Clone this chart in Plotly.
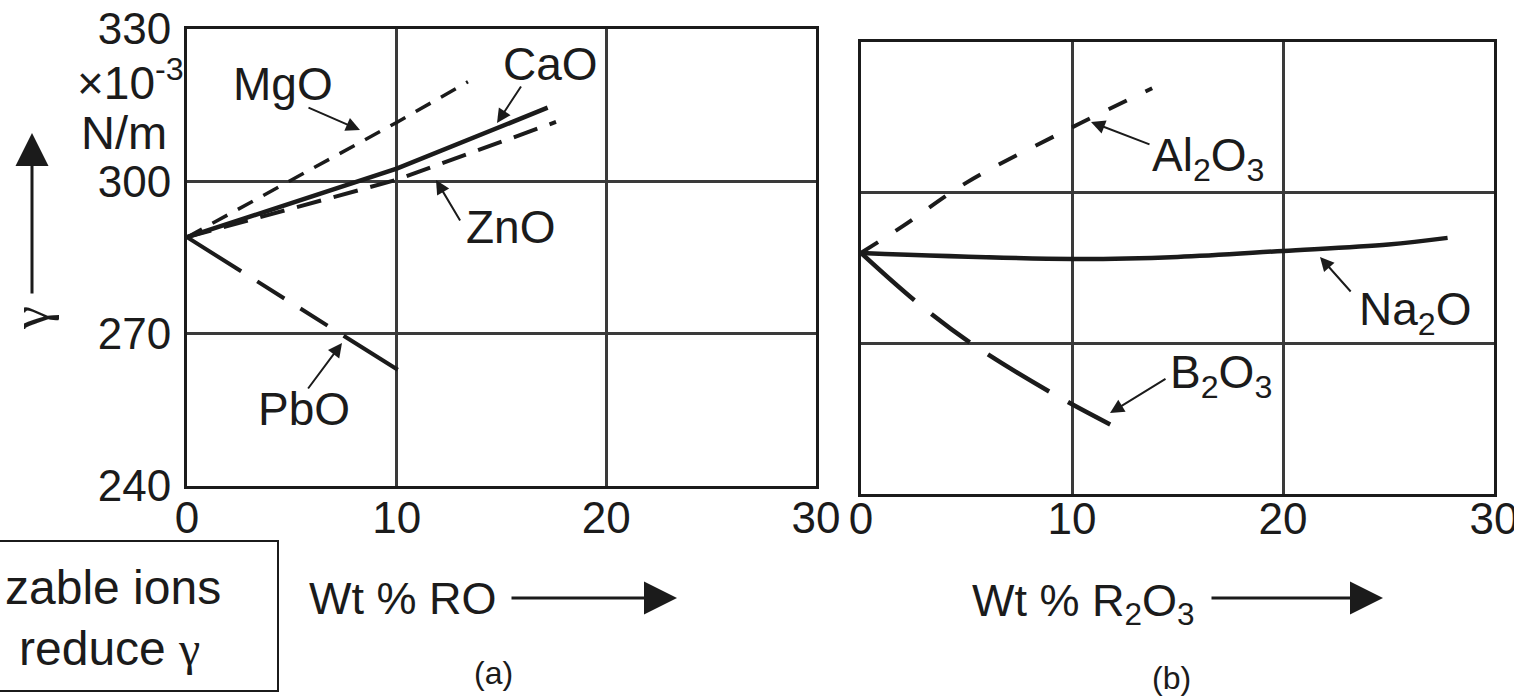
import plotly.graph_objects as go

W, H = 1514, 698
FONT = "Arial, Liberation Sans, sans-serif"
SERIF = "Liberation Serif, Times New Roman, serif"
INK = "#1b1b1b"
GRID = "#3a3a3a"

# ---- (a) surface tension vs. Wt % RO ----
mgo_x = [0, 10, 13.4]
mgo_y = [289, 311.6, 319.6]
cao_x = [0, 10, 17.2]
cao_y = [289, 302.5, 314.5]
zno_x = [0, 10, 17.6]
zno_y = [289, 300.3, 311.7]
pbo_x = [0, 5, 10.2]
pbo_y = [289, 276, 262.5]

# ---- (b) surface tension vs. Wt % R2O3 ----
al2o3_x = [0, 2, 5, 10, 13.8]
al2o3_y = [288, 293.4, 302, 313, 320.8]
na2o_x = [0, 10, 15, 20, 25, 27.8]
na2o_y = [288, 286.8, 287.2, 288.4, 289.7, 291]
b2o3_x = [0, 2.7, 5.4, 9.3, 12.2]
b2o3_y = [288, 278, 269.5, 259.5, 253]

x_ticks = [0, 10, 20, 30]
y_ticks = [240, 270, 300, 330]


def px(x):
    return x / W


def py(y):
    return 1 - y / H


fig = go.Figure()


def add_line(xs, ys, axis, dash, width=4, shape="linear"):
    fig.add_trace(go.Scatter(
        x=xs, y=ys, mode="lines",
        xaxis="x" if axis == 1 else "x2",
        yaxis="y" if axis == 1 else "y2",
        line=dict(color=INK, width=width, dash=dash, shape=shape),
        hoverinfo="skip", showlegend=False,
    ))


add_line(mgo_x, mgo_y, 1, "17px,12px", 3.5)
add_line(cao_x, cao_y, 1, "solid", 4.5)
add_line(zno_x, zno_y, 1, "25px,13px", 4)
add_line(pbo_x, pbo_y, 1, "64px,19px,32px,19px,32px,19px", 4)

add_line(al2o3_x, al2o3_y, 2, "20px,21px", 4, "spline")
add_line(na2o_x, na2o_y, 2, "solid", 4.5, "spline")
add_line(b2o3_x, b2o3_y, 2, "71px,22px,48px,22px", 4.5, "spline")

axis_common = dict(
    showgrid=True, gridcolor=GRID, gridwidth=2.5,
    showline=True, mirror=True, linecolor=INK, linewidth=3,
    zeroline=False, ticks="", ticklen=0, fixedrange=True, automargin=False,
    ticklabeloverflow="allow",
    tickfont=dict(family=FONT, size=44, color=INK),
)

fig.update_layout(
    template="none",
    width=W, height=H,
    margin=dict(l=0, r=0, t=0, b=0, pad=0),
    paper_bgcolor="white", plot_bgcolor="white",
    showlegend=False,
    xaxis=dict(domain=[187 / W, 816 / W], range=[0, 30], tickvals=x_ticks,
               anchor="y", ticklabelstandoff=-9, **axis_common),
    yaxis=dict(domain=[py(486), py(29)], range=[240, 330], tickvals=y_ticks,
               anchor="x", ticklabelstandoff=4, **axis_common),
    xaxis2=dict(domain=[861 / W, 1494 / W], range=[0, 30], tickvals=x_ticks,
                anchor="y2", ticklabelstandoff=-16, **axis_common),
    yaxis2=dict(domain=[py(494), py(42)], range=[240, 330], tickvals=y_ticks,
                anchor="x2", showticklabels=False, **axis_common),
)

annotations = []


def text(s, x, y, size=46, xanchor="center", angle=0, family=FONT):
    annotations.append(dict(
        text=s, x=px(x), y=py(y), xref="paper", yref="paper",
        xanchor=xanchor, yanchor="middle", showarrow=False, textangle=angle,
        font=dict(family=family, size=size, color=INK),
    ))


def arrow(tail, tip, width=2, size=1.4, head=2):
    annotations.append(dict(
        text="", x=px(tip[0]), y=py(tip[1]), xref="paper", yref="paper",
        ax=tail[0] - tip[0], ay=tail[1] - tip[1],
        showarrow=True, arrowhead=head, arrowwidth=width, arrowsize=size,
        arrowcolor=INK, standoff=0, startstandoff=0,
    ))


# y-axis units and title
text("×10<sup>-3</sup>", 130, 80, 46)
text("N/m", 124, 133, 47)
text("γ", 30, 318, 52, angle=-90, family=SERIF)
arrow((32, 295), (32, 133), width=3, size=2.2)

# x-axis titles
text("Wt % RO", 403, 598, 45)
arrow((510, 598), (677, 598), width=3, size=2.2)
text("Wt % R<sub>2</sub>O<sub>3</sub>", 1083, 603, 45)
arrow((1210, 598), (1383, 598), width=3, size=2.2)
text("(a)", 494, 673, 32)
text("(b)", 1171, 678, 32)

# curve labels
text("MgO", 283, 84)
arrow((307, 107), (360, 130))
text("CaO", 550, 64)
arrow((522, 85), (497, 123))
text("ZnO", 510, 227)
arrow((461, 222), (436, 180))
text("PbO", 304, 409)
arrow((307, 390), (342, 343))
text("Al<sub>2</sub>O<sub>3</sub>", 1208, 158)
arrow((1151, 145), (1091, 122))
text("Na<sub>2</sub>O", 1415, 312)
arrow((1352, 293), (1320, 257))
text("B<sub>2</sub>O<sub>3</sub>", 1221, 375)
arrow((1167, 378), (1110, 413))

# note box
text("zable ions", 223, 587, 48, xanchor="right")
text("reduce <span style='font-family:Liberation Serif'>γ</span>", 202, 648, 48,
     xanchor="right")

fig.update_layout(
    annotations=annotations,
    shapes=[dict(type="rect", xref="paper", yref="paper",
                 x0=px(-10), x1=px(278), y0=py(691), y1=py(541),
                 line=dict(color=INK, width=2), fillcolor="rgba(0,0,0,0)")],
)

fig.write_html("out.html")
